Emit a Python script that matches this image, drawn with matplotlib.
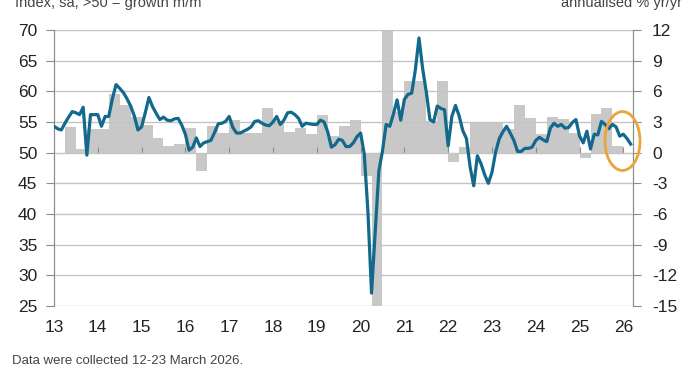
import numpy as np
import matplotlib
matplotlib.use("Agg")
import matplotlib.pyplot as plt
import matplotlib.patches as patches

plt.rcParams["font.family"] = ["Liberation Sans", "DejaVu Sans"]
plt.rcParams["axes.unicode_minus"] = False

# Composite PMI, monthly from Jan 2013 (index, left axis)
pmi = [
    # 2013
    54.3, 53.9, 53.7, 54.8, 55.8, 56.7, 56.5, 56.2, 57.4, 49.6, 56.2, 56.2,
    # 2014
    56.2, 54.3, 55.9, 55.9, 58.8, 61.1, 60.5, 59.8, 58.8, 57.6, 56.0, 53.7,
    # 2015
    54.2, 56.5, 59.0, 57.5, 56.4, 55.4, 55.8, 55.3, 55.2, 55.5, 55.6, 54.5,
    # 2016
    53.0, 50.4, 50.9, 52.4, 51.0, 51.6, 51.8, 52.0, 53.3, 54.7, 54.8, 55.1,
    # 2017
    55.9, 54.1, 53.2, 53.2, 53.5, 53.8, 54.2, 55.1, 55.2, 54.8, 54.5, 54.4,
    # 2018
    55.0, 55.9, 54.6, 55.3, 56.5, 56.6, 56.2, 55.6, 54.3, 54.8, 54.7, 54.6,
    # 2019
    54.6, 55.3, 55.0, 53.4, 50.9, 51.3, 52.2, 52.0, 51.0, 51.0, 51.6, 52.6,
    # 2020
    53.2, 49.8, 40.5, 27.1, 37.0, 47.0, 50.3, 54.6, 54.3, 56.3, 58.6, 55.3,
    # 2021
    58.7, 59.5, 59.7, 63.5, 68.7, 63.7, 59.9, 55.4, 55.0, 57.6, 57.2, 57.0,
    # 2022
    51.1, 55.9, 57.7, 56.0, 53.6, 52.3, 47.7, 44.6, 49.5, 48.2, 46.4, 45.0,
    # 2023
    46.8, 50.1, 52.3, 53.4, 54.3, 53.2, 52.0, 50.2, 50.2, 50.7, 50.7, 50.9,
    # 2024
    52.0, 52.5, 52.1, 51.8, 54.0, 54.8, 54.3, 54.6, 54.0, 54.1, 54.9, 55.4,
    # 2025
    52.7, 51.6, 53.5, 50.6, 53.0, 52.9, 55.1, 54.6, 53.9, 54.6, 54.2, 52.7,
    # 2026
    53.0, 52.3, 51.4,
]

# GDP, quarterly from 2013 Q1 (annualised %, right axis)
gdp = [
    0.0, 2.5, 0.4, 2.3,      # 2013
    2.3, 5.7, 4.7, 3.5,      # 2014
    2.7, 1.4, 0.7, 0.8,      # 2015
    2.4, -1.8, 2.6, 1.9,     # 2016
    3.2, 1.9, 1.9, 4.4,      # 2017
    3.1, 2.0, 2.4, 1.8,      # 2018
    3.7, 1.6, 2.6, 3.2,      # 2019
    -2.3, -28.0, 34.8, 4.0,  # 2020
    7.0, 7.0, 3.1, 7.0,      # 2021
    -0.9, 0.6, 3.0, 3.0,     # 2022
    3.0, 2.3, 4.7, 3.4,      # 2023
    1.8, 3.5, 3.3, 1.9,      # 2024
    -0.5, 3.8, 4.4, 0.7,     # 2025
]

years = list(range(2013, 2027))
year_labels = [str(y)[2:] for y in years]

left_ticks = list(range(25, 75, 5))
right_ticks = list(range(-15, 15, 3))

line_color = "#12698c"
bar_color = "#c8c8c8"
grid_color = "#c4c4c4"
spine_color = "#8c8c8c"
text_color = "#222222"

x_pmi = 2013 + np.arange(len(pmi)) / 12
x_gdp = 2013 + np.arange(len(gdp)) * 0.25

fig = plt.figure(figsize=(7, 3.75), dpi=100)
ax = fig.add_axes([54 / 700, 1 - 306 / 375, (632.5 - 54) / 700, 276 / 375])
ax2 = ax.twinx()

# bars on the right axis, behind the line
ax2.bar(x_gdp, gdp, width=0.25, align="edge", color=bar_color, linewidth=0)
ax2.set_ylim(-15, 12)
ax2.set_yticks(right_ticks)

ax.set_zorder(ax2.get_zorder() + 1)
ax.patch.set_visible(False)

ax.plot(x_pmi, pmi, color=line_color, linewidth=2.3, solid_joinstyle="round", zorder=3)
ax.set_ylim(25, 70)
ax.set_yticks(left_ticks)
ax.set_xlim(2013, 2013 + 158.5 / 12)
ax.set_xticks(years)
ax.set_xticklabels(year_labels)
ax.grid(axis="y", color=grid_color, linewidth=1)
ax.set_axisbelow(True)

for a in (ax, ax2):
    for side in ("top", "bottom"):
        a.spines[side].set_visible(False)
    a.spines["left"].set_color(spine_color)
    a.spines["right"].set_color(spine_color)

ax.tick_params(axis="y", direction="out", length=6, color=spine_color,
               labelsize=12.5, labelcolor=text_color, pad=6)
ax.tick_params(axis="x", length=0, labelsize=12.5, labelcolor=text_color, pad=10)
ax2.tick_params(axis="y", direction="out", length=6, color=spine_color,
                labelsize=12.5, labelcolor=text_color, pad=8)

# year ticks sit on the 50 line
sec = ax.secondary_xaxis((50 - 25) / 45)
sec.set_xticks(years[1:])
sec.set_xticklabels([""] * len(years[1:]))
sec.tick_params(direction="out", length=4, color=spine_color)
for s in sec.spines.values():
    s.set_visible(False)

# highlight latest readings
ell = patches.Ellipse((2025.98, 51.9), 0.80, 9.6, fill=False,
                      edgecolor="#e9a43c", linewidth=2, clip_on=False, zorder=5)
ax.add_patch(ell)

fig.text(15 / 700, 1 - 7.5 / 375, "Index, sa, >50 = growth m/m",
         fontsize=10.5, color="#444444", va="baseline", ha="left")
fig.text(682 / 700, 1 - 7.5 / 375, "annualised % yr/yr",
         fontsize=10.5, color="#444444", va="baseline", ha="right")
fig.text(12 / 700, 1 - 364 / 375, "Data were collected 12-23 March 2026.",
         fontsize=9.5, color="#444444", va="baseline", ha="left")
fig.text(12 / 700, 1 - 384 / 375,
         "Sources: S&P Global PMI, Bureau of Economic Analysis via S&P Global Market Intelligence.",
         fontsize=9.5, color="#444444", va="baseline", ha="left")

fig.savefig("out.png", dpi=100)
